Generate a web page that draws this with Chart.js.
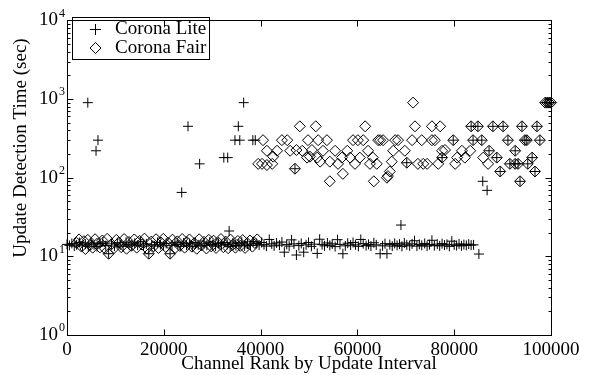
<!DOCTYPE html>
<html><head><meta charset="utf-8">
<script src="https://cdn.jsdelivr.net/npm/chart.js@4/dist/chart.umd.min.js"></script>
<style>html,body{margin:0;padding:0;background:#fff}</style>
</head><body>
<canvas id="c" width="592" height="375"></canvas>
<script>
const seriesNames = ['Corona Lite', 'Corona Fair'];
const xTitle = 'Channel Rank by Update Interval';
const yTitle = 'Update Detection Time (sec)';
const xTickValues = [0, 20000, 40000, 60000, 80000, 100000];
const yTickExponents = [0, 1, 2, 3, 4];

// Corona Lite (+ markers)
const liteX = [
 0,500,1000,1500,2000,2600,3200,3800,4400,5000,5600,6200,6800,7400,8000,8600,9200,9800,10400,11000,
 11600,12200,12800,13400,14000,14600,15200,15800,16400,16900,17500,18100,18700,19300,19900,20500,21300,21700,22300,22900,
 23500,24100,24700,25300,25900,26500,27100,27700,28300,28900,29500,30100,30700,31300,31900,32500,33100,33700,34300,34900,
 35500,36100,36700,37300,37900,38500,39100,39700,40200,40700,41200,41800,42300,42800,43300,43900,44400,44900,45400,45900,
 46400,46900,47400,47900,48400,48900,49400,49900,50500,51100,51700,52200,52700,53200,53800,54300,54800,55400,55900,56400,
 57000,57500,58000,58600,59100,59600,60200,60700,61200,61800,62300,62800,63400,63900,64700,65200,65700,66100,66700,67200,
 67700,68200,68700,69200,69700,70200,70800,71300,71800,72300,72800,73300,73900,74400,74900,75400,75900,76500,77000,77500,
 78000,78500,79000,79500,80000,80500,81000,81500,82000,82500,83000,83500,84000,85100,
 4300,6000,6400,23700,25000,27400,32400,33200,33500,34700,35400,35700,36500,38400,38900,47100,69000,70200,77500,79800,
 85900,86800,83500,83900,84900,85700,87200,88000,88800,89500,90100,91100,91500,92600,92600,93200,93600,94000,94600,95000,
 95200,96100,96700,97100,97700,98800,99200,99600,100000
];
const liteY = [
 14.2,13.8,14.6,13.5,14.0,15.0,13.6,14.3,13.4,14.8,14.0,13.3,14.5,15.2,13.7,10.8,14.4,13.5,14.9,14.0,
 13.4,15.1,14.2,13.6,14.7,13.9,15.3,13.5,14.4,10.8,14.0,13.5,15.0,14.1,13.6,14.6,10.8,13.8,15.1,14.2,
 13.4,14.8,13.9,14.5,13.3,15.0,14.0,13.6,14.7,13.8,15.2,14.1,13.5,14.6,13.9,15.0,14.2,13.4,14.8,13.7,
 14.4,15.1,13.6,14.3,13.8,15.4,14.6,13.9,15.0,14.1,13.5,16.4,14.4,13.6,14.8,13.9,15.2,11.3,14.2,13.5,
 16.2,14.4,10.4,13.7,14.6,11.3,14.0,15.0,13.4,14.3,10.9,16.5,14.1,13.6,14.8,13.8,14.4,13.3,16.3,14.2,
 10.8,13.6,14.7,13.9,15.0,14.0,13.4,16.4,14.5,13.7,14.2,13.5,14.9,14.0,10.8,13.6,14.5,10.8,14.1,13.5,
 14.6,13.8,14.3,13.4,14.8,14.0,13.6,14.4,15.8,13.5,14.2,13.8,14.6,13.5,14.1,16.0,13.7,14.3,13.6,14.5,
 13.9,14.2,13.4,15.6,14.0,13.7,14.4,13.6,14.1,13.8,14.3,13.9,14.0,10.7,
 900,220,300,65,450,150,180,180,21,300,450,300,900,300,300,130,25,155,180,300,
 90,69,450,300,450,300,220,450,180,120,450,300,150,220,150,150,90,450,300,300,
 150,180,120,450,300,900,900,900,900
];

// Corona Fair (diamond markers)
const fairX = [
 2000,2500,3000,3500,3800,4300,4800,5300,5800,6300,6800,7300,7800,8300,8600,9200,9700,10200,10700,11200,
 11800,12300,12800,13300,13900,14400,15000,15500,16000,16500,16900,17400,17900,18400,18900,19400,19900,20400,20900,21300,
 21800,22300,22800,23300,23800,24300,24800,25300,25800,26300,26800,27300,27800,28300,28800,29300,29800,30300,30800,31300,
 31800,32300,32800,33300,33800,34300,34800,35300,35800,36300,36800,37300,37800,38300,38800,39300,
 39500,40300,40500,41300,41300,42400,42600,43400,44400,45500,46100,47100,47400,48100,48600,49600,49800,50200,50600,51400,
 51700,51900,52300,52900,53700,54300,54300,55400,56000,56800,57000,57900,58500,59100,59500,60100,60500,61200,61600,62200,
 62600,63200,63400,64000,64300,64700,65300,66100,66300,66700,67100,67400,67800,68400,69800,70200,71300,71500,71900,72500,
 73300,73600,74400,75400,75400,76000,76700,77100,77500,77500,78100,79800,80200,80600,81600,82200,83300,
 83500,83900,84900,85700,86000,87000,87200,88000,88800,89500,90100,91100,91500,92600,92600,93200,93600,94000,94600,95000,
 95200,96100,96700,97100,97700,98800,99200,99600,100000
];
const fairY = [
 14.8,16.4,13.3,15.6,12.4,16.2,14.0,12.9,16.5,14.6,13.0,15.9,12.6,16.7,10.8,14.3,12.7,16.2,14.9,13.1,
 16.6,12.5,15.2,13.6,16.4,12.9,15.7,14.1,16.8,12.6,10.8,15.4,13.4,16.5,12.8,15.0,16.7,13.2,14.8,10.8,
 16.3,12.7,15.5,13.6,16.6,12.9,15.1,16.4,13.3,14.7,12.5,16.5,13.8,15.3,12.6,16.2,13.4,15.8,12.8,14.9,
 16.6,13.1,15.4,12.7,16.3,14.2,12.9,15.7,13.6,16.1,12.8,14.6,15.9,13.3,14.8,16.4,
 150,150,300,220,145,150,185,220,300,300,220,130,225,450,220,180,300,185,225,450,
 180,300,160,220,300,160,90,220,150,180,112,220,180,300,150,300,180,300,450,220,
 150,180,90,150,300,300,300,100,105,120,160,220,300,300,220,155,300,900,450,150,
 300,150,150,450,300,300,150,450,220,180,225,300,150,180,220,180,220,
 450,300,450,300,180,150,220,450,180,120,450,300,150,220,150,150,90,450,300,300,
 150,180,120,450,300,900,900,900,900
];

const FONT = '"Liberation Serif", "Times New Roman", serif';
const FS = 19;
const toPts = (xs, ys) => xs.map((x, i) => ({x: x, y: ys[i]}));

const decor = {
  id: 'decor',
  afterDraw(chart) {
    const {ctx, chartArea: a, scales: {x, y}} = chart;
    ctx.save();
    ctx.strokeStyle = '#000';
    ctx.fillStyle = '#000';
    ctx.lineWidth = 1;
    const L = Math.round(a.left) + 0.5, R = Math.round(a.right) + 0.5;
    const T = Math.round(a.top) + 0.5, B = Math.round(a.bottom) + 0.5;
    ctx.strokeRect(L, T, R - L, B - T);
    ctx.beginPath();
    xTickValues.forEach(v => {
      const px = Math.round(x.getPixelForValue(v)) + 0.5;
      ctx.moveTo(px, B); ctx.lineTo(px, B - 6);
      ctx.moveTo(px, T); ctx.lineTo(px, T + 6);
    });
    for (let e = yTickExponents[0]; e <= yTickExponents[yTickExponents.length - 1]; e++) {
      for (let m = 1; m <= 9; m++) {
        const v = m * Math.pow(10, e);
        if (v > y.max) break;
        const py = Math.round(y.getPixelForValue(v)) + 0.5;
        const len = m === 1 ? 6 : 3;
        ctx.moveTo(L, py); ctx.lineTo(L + len, py);
        ctx.moveTo(R, py); ctx.lineTo(R - len, py);
      }
    }
    ctx.stroke();
    // exponents of y tick labels
    ctx.font = '12px ' + FONT;
    ctx.textAlign = 'left';
    ctx.textBaseline = 'middle';
    yTickExponents.forEach(e => {
      ctx.fillText(String(e), a.left - 8, y.getPixelForValue(Math.pow(10, e)) - 7);
    });
    // y title
    ctx.save();
    ctx.translate(21, 148);
    ctx.rotate(-Math.PI / 2);
    ctx.font = FS + 'px ' + FONT;
    ctx.textAlign = 'center';
    ctx.fillText(yTitle, 0, 0);
    ctx.restore();
    // legend
    ctx.strokeRect(72.5, 17.5, 137, 42);
    ctx.beginPath();
    ctx.moveTo(90, 29.5); ctx.lineTo(101, 29.5);
    ctx.moveTo(95.5, 24); ctx.lineTo(95.5, 35);
    ctx.moveTo(95.5, 42.5); ctx.lineTo(101, 48); ctx.lineTo(95.5, 53.5); ctx.lineTo(90, 48); ctx.closePath();
    ctx.stroke();
    ctx.font = FS + 'px ' + FONT;
    ctx.textAlign = 'left';
    ctx.textBaseline = 'middle';
    ctx.fillText(seriesNames[0], 115, 29.5);
    ctx.fillText(seriesNames[1], 115, 48.5);
    ctx.restore();
  }
};

new Chart(document.getElementById('c'), {
  type: 'scatter',
  data: {
    datasets: [
      {label: seriesNames[0], data: toPts(liteX, liteY), pointStyle: 'cross', pointRadius: 5,
       borderColor: '#000', backgroundColor: 'rgba(0,0,0,0)', borderWidth: 1, clip: false, pointHoverRadius: 5},
      {label: seriesNames[1], data: toPts(fairX, fairY), pointStyle: 'rectRot', pointRadius: 5.5,
       borderColor: '#000', backgroundColor: 'rgba(0,0,0,0)', borderWidth: 1, clip: false, pointHoverRadius: 5.5}
    ]
  },
  options: {
    responsive: false,
    devicePixelRatio: 1,
    animation: false,
    events: [],
    layout: {padding: {left: 0, top: 13, right: 41, bottom: 0}},
    plugins: {legend: {display: false}, tooltip: {enabled: false}},
    scales: {
      x: {
        type: 'linear', min: xTickValues[0], max: xTickValues[xTickValues.length - 1],
        afterFit: s => { s.height = 40; },
        afterBuildTicks: s => { s.ticks = xTickValues.map(v => ({value: v})); },
        grid: {display: false, drawTicks: false},
        border: {display: false},
        ticks: {color: '#000', font: {family: FONT, size: FS}, padding: 4, maxRotation: 0, autoSkip: false,
                callback: v => String(v)},
        title: {display: true, text: xTitle, color: '#000', font: {family: FONT, size: FS}, padding: {top: 0, bottom: 0}}
      },
      y: {
        type: 'logarithmic', min: Math.pow(10, yTickExponents[0]), max: Math.pow(10, yTickExponents[yTickExponents.length - 1]),
        afterFit: s => { s.width = 67; },
        afterBuildTicks: s => { s.ticks = yTickExponents.map(e => ({value: Math.pow(10, e)})); },
        grid: {display: false, drawTicks: false},
        border: {display: false},
        ticks: {color: '#000', font: {family: FONT, size: FS}, padding: 9, autoSkip: false,
                callback: () => '10'}
      }
    }
  },
  plugins: [decor]
});
</script>
</body></html>
